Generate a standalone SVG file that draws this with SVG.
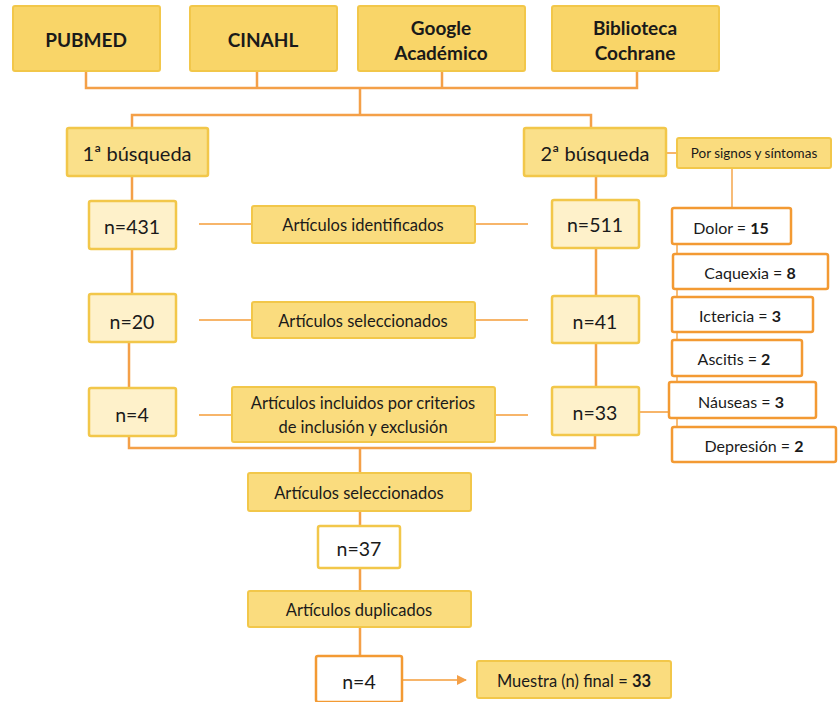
<svg xmlns="http://www.w3.org/2000/svg" width="839" height="702" viewBox="0 0 839 702">
<style>
text{font-family:Lato,"Open Sans","Liberation Sans",sans-serif;fill:#1a1a1a;text-anchor:middle;dominant-baseline:central}
.src rect{fill:#F9D568;stroke:#F2C74A;stroke-width:2}
.src text{font-size:19px;font-weight:bold}
.bus rect{fill:#FAE08A;stroke:#F2C74A;stroke-width:2.5}
.bus text{font-size:20px}
.num rect{fill:#FEF1CA;stroke:#F2C74A;stroke-width:2.5}
.num text{font-size:19.5px}
.lab rect{fill:#FADC7E;stroke:#F2C74A;stroke-width:2}
.lab text{font-size:16.5px}
.sym rect{fill:#fff;stroke:#F39A33;stroke-width:2.5}
.sym text{font-size:16px}
.wy rect{fill:#fff;stroke:#F2C74A;stroke-width:2.5}
.wy text{font-size:19.5px}
.wo rect{fill:#fff;stroke:#F39A33;stroke-width:2.5}
.wo text{font-size:19.5px}
.b{font-weight:bold}
#conn path{fill:none;stroke:#F4A048;stroke-width:2.5}
#conn .thin{stroke:#F7B56A;stroke-width:1.8}
</style>
<defs>
<marker id="ah" markerWidth="10" markerHeight="10" refX="9" refY="5" orient="auto" markerUnits="userSpaceOnUse"><path d="M0,0 L10,5 L0,10 Z" fill="#F4A048"/></marker>
</defs>
<g id="conn">
<path d="M86,72 V88 H637 V72 M257,72 V88 M442,72 V88"/>
<path d="M360,88 V115 M132,128 V115 H591 V128"/>
<path d="M132,176 V201 M132,249 V294 M129,342 V388"/>
<path d="M596,176 V200 M596,248 V296 M596,343 V387"/>
<path d="M129,436 V448 H595 V435 M360,448 V473"/>
<path d="M360,511 V526 M360,568 V591 M360,627 V656"/>
<path class="thin" d="M199,224 H252 M475,224 H528"/>
<path class="thin" d="M199,320 H252 M475,320 H528"/>
<path class="thin" d="M199,415 H232 M495,415 H528"/>
<path class="thin" d="M666,153 H677 M732,168 V208 M639,412 H669"/>
<path class="thin" d="M677,244 V254 M677,289 V297 M677,332 V340 M677,376 V382 M677,418 V427"/>
<path class="thin" d="M403,680 H466" marker-end="url(#ah)"/>
</g>
<g id="pubmed" class="src"><rect x="13" y="6" width="147" height="65" rx="2"/><text x="86" y="39">PUBMED</text></g>
<g id="cinahl" class="src"><rect x="190" y="6" width="147" height="65" rx="2"/><text x="263" y="39">CINAHL</text></g>
<g id="google" class="src"><rect x="358" y="6" width="167" height="65" rx="2"/><text x="441" y="27">Google</text><text x="441" y="52">Académico</text></g>
<g id="cochrane" class="src"><rect x="552" y="6" width="167" height="65" rx="2"/><text x="635" y="27">Biblioteca</text><text x="635" y="52">Cochrane</text></g>
<g id="busq1" class="bus"><rect x="67" y="128" width="141" height="48" rx="2"/><text x="137" y="153">1ª búsqueda</text></g>
<g id="busq2" class="bus"><rect x="524" y="128" width="142" height="48" rx="2"/><text x="595" y="153">2ª búsqueda</text></g>
<g id="signos" class="lab"><rect x="677" y="138" width="154" height="30" rx="2"/><text x="754" y="153" style="font-size:13.5px">Por signos y síntomas</text></g>
<g id="n431" class="num"><rect x="89" y="201" width="87" height="48" rx="2"/><text x="132" y="226">n=431</text></g>
<g id="ident" class="lab"><rect x="252" y="206" width="223" height="37" rx="2"/><text x="363" y="225">Artículos identificados</text></g>
<g id="n511" class="num"><rect x="552" y="200" width="87" height="48" rx="2"/><text x="595" y="224">n=511</text></g>
<g id="n20" class="num"><rect x="89" y="294" width="87" height="48" rx="2"/><text x="132" y="321">n=20</text></g>
<g id="sel1" class="lab"><rect x="252" y="302" width="223" height="36" rx="2"/><text x="363" y="321">Artículos seleccionados</text></g>
<g id="n41" class="num"><rect x="552" y="296" width="87" height="47" rx="2"/><text x="595" y="321">n=41</text></g>
<g id="n4a" class="num"><rect x="89" y="388" width="87" height="48" rx="2"/><text x="132" y="414">n=4</text></g>
<g id="incl" class="lab"><rect x="232" y="387" width="263" height="55" rx="2"/><text x="363" y="403">Artículos incluidos por criterios</text><text x="363" y="427">de inclusión y exclusión</text></g>
<g id="n33" class="num"><rect x="552" y="387" width="87" height="48" rx="2"/><text x="595" y="412">n=33</text></g>
<g id="dolor" class="sym"><rect x="672" y="208" width="119" height="36" rx="2"/><text x="731" y="227">Dolor = <tspan class="b">15</tspan></text></g>
<g id="caquexia" class="sym"><rect x="673" y="254" width="155" height="35" rx="2"/><text x="750" y="272">Caquexia = <tspan class="b">8</tspan></text></g>
<g id="ictericia" class="sym"><rect x="672" y="297" width="141" height="35" rx="2"/><text x="740" y="315">Ictericia = <tspan class="b">3</tspan></text></g>
<g id="ascitis" class="sym"><rect x="672" y="340" width="130" height="36" rx="2"/><text x="734" y="358">Ascitis = <tspan class="b">2</tspan></text></g>
<g id="nauseas" class="sym"><rect x="669" y="382" width="147" height="36" rx="2"/><text x="741" y="401">Náuseas = <tspan class="b">3</tspan></text></g>
<g id="depresion" class="sym"><rect x="672" y="427" width="164" height="35" rx="2"/><text x="754" y="445">Depresión = <tspan class="b">2</tspan></text></g>
<g id="sel2" class="lab"><rect x="248" y="473" width="223" height="38" rx="2"/><text x="359" y="493">Artículos seleccionados</text></g>
<g id="n37" class="wy"><rect x="318" y="526" width="82" height="42" rx="2"/><text x="359" y="548">n=37</text></g>
<g id="dup" class="lab"><rect x="248" y="591" width="223" height="36" rx="2"/><text x="359" y="610">Artículos duplicados</text></g>
<g id="n4b" class="wo"><rect x="316" y="656" width="86" height="46" rx="2"/><text x="359" y="681">n=4</text></g>
<g id="muestra" class="lab"><rect x="477" y="661" width="194" height="37" rx="2"/><text x="574" y="681">Muestra (n) final = <tspan class="b">33</tspan></text></g>
</svg>
